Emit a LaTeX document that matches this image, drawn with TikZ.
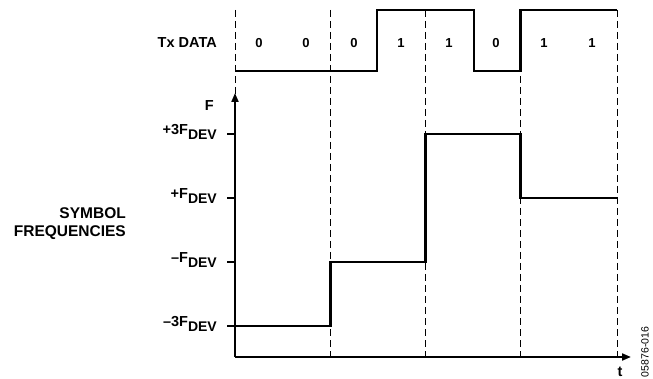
\documentclass[tikz,border=0pt]{standalone}
\usepackage{fontspec}
\setmainfont{Liberation Sans}
\usetikzlibrary{arrows.meta}
\newcommand\devsub{\raisebox{-5.5pt}{\fontsize{14}{14}\selectfont DEV}}
\begin{document}
\begin{tikzpicture}[x=1pt,y=-1pt,
  lbl/.style={font=\bfseries\fontsize{14.5}{16}\selectfont, inner sep=0pt},
  bit/.style={font=\bfseries\fontsize{13}{15}\selectfont, inner sep=0pt},
  wave/.style={line width=2.2pt, line join=miter},
  gridln/.style={line width=1pt, dash pattern=on 7pt off 4pt},
  axisln/.style={line width=2pt, -{Triangle[length=9pt,width=7pt]}},
  tickln/.style={line width=1.3pt}]
\useasboundingbox (0,0) rectangle (653,379);
% grid columns
\foreach \n/\x in {0/235,1/330.5,2/425.5,3/520.5,4/617}{
  \coordinate (top\n) at (\x,10);
  \coordinate (bot\n) at (\x,360);
  \draw[gridln] (top\n) -- (bot\n);
}
% Tx data waveform
\coordinate (d0) at (235,71);
\coordinate (d1) at (377,71);
\coordinate (d2) at (377,10);
\coordinate (d3) at (474,10);
\coordinate (d4) at (474,71);
\coordinate (d5) at (520.5,71);
\coordinate (d6) at (520.5,10);
\coordinate (d7) at (617,10);
\draw[wave] (d0) -- (d1) -- (d2) -- (d3) -- (d4) -- (d5) -- (d6) -- (d7);
\node[lbl, anchor=base east] (txlabel) at (217,48) {Tx DATA};
\foreach \i/\x/\b in {1/259/0,2/306/0,3/354/0,4/401/1,5/449/1,6/496/0,7/544/1,8/592/1}{
  \node[bit, anchor=base] (bit\i) at (\x,47.5) {\b};
}
% axes
\coordinate (O) at (235,357);
\coordinate (ytip) at (235,93);
\coordinate (xtip) at (631,357);
\draw[axisln] (O) -- (ytip);
\draw[axisln] (O) -- (xtip);
% frequency levels ticks
\foreach \n/\y in {a/134,b/198,c/262,d/326}{
  \coordinate (tk\n) at (227,\y);
  \coordinate (ax\n) at (235,\y);
  \draw[tickln] (tk\n) -- (ax\n);
}
% frequency waveform
\coordinate (f0) at (235,326);
\coordinate (f1) at (330.5,326);
\coordinate (f2) at (330.5,262);
\coordinate (f3) at (425.5,262);
\coordinate (f4) at (425.5,134);
\coordinate (f5) at (520.5,134);
\coordinate (f6) at (520.5,198);
\coordinate (f7) at (617,198);
\draw[wave] (f0) -- (f1) -- (f2) -- (f3) -- (f4) -- (f5) -- (f6) -- (f7);
% labels
\node[lbl, anchor=base east] (Flbl) at (214,111) {F};
\node[lbl, anchor=base east] (la) at (217,134.5) {+3F\devsub};
\node[lbl, anchor=base east] (lb) at (217,198.5) {+F\devsub};
\node[lbl, anchor=base east] (lc) at (217,262.5) {–F\devsub};
\node[lbl, anchor=base east] (ld) at (217,326.5) {–3F\devsub};
\node[lbl, anchor=east, align=right, font=\bfseries\fontsize{15.5}{18}\selectfont] (sym) at (126,224) {SYMBOL\\FREQUENCIES};
\node[lbl, anchor=base] (tlbl) at (620,376) {t};
\node[font=\fontsize{10.5}{12}\selectfont, rotate=90, inner sep=0pt] (code) at (645,352) {05876-016};
\end{tikzpicture}
\end{document}
